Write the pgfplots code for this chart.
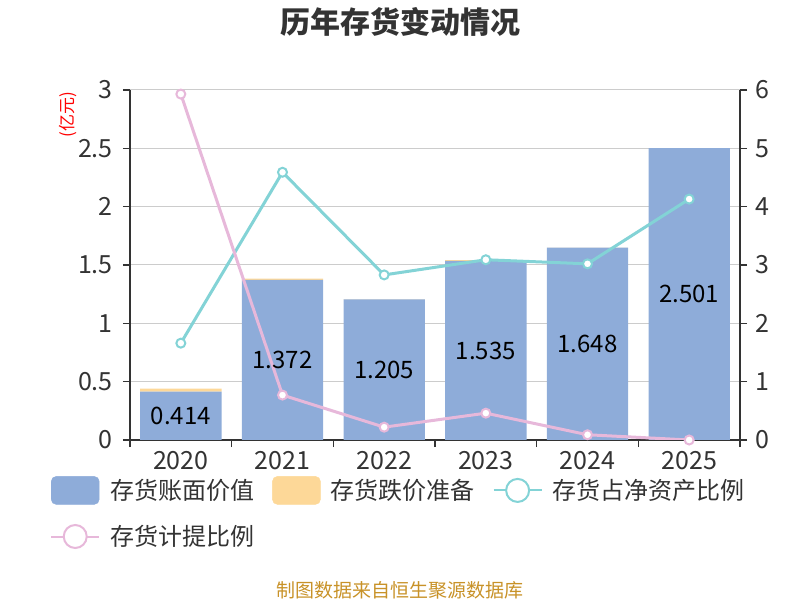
\documentclass[border=0pt]{standalone}
\usepackage{fontspec}
\setmainfont{Noto Sans CJK SC}
\usepackage{pgfplots}
\pgfplotsset{compat=1.18}
\definecolor{barblue}{RGB}{142,172,217}
\definecolor{barorange}{RGB}{253,216,152}
\definecolor{lteal}{RGB}{131,211,214}
\definecolor{lpink}{RGB}{231,184,218}
\definecolor{axgray}{RGB}{51,51,51}
\definecolor{gridgray}{RGB}{204,204,204}
\definecolor{foot}{RGB}{200,146,40}
\newcommand{\fs}[1]{\fontsize{#1bp}{#1bp}\selectfont}
\pgfplotsset{common/.style={
  at={(180.8333bp,160bp)}, anchor=origin, scale only axis, width=610bp, height=350bp,
  xmin=-0.5, xmax=5.5,
  /pgf/number format/assume math mode=true}}
\begin{document}
\begin{tikzpicture}
\path[use as bounding box] (0bp,0bp) rectangle (800bp,600bp);
\node[font=\fs{30}\bfseries, text=axgray] at (400bp,578bp) {历年存货变动情况};
\node[font=\fs{17}, text=red, rotate=90] at (68bp,485bp) {(亿元)};
\node[font=\fs{19}, text=foot] at (400bp,10bp) {制图数据来自恒生聚源数据库};
% bars
\begin{axis}[common, ymin=0, ymax=3,
  ybar stacked, bar width=0.8,
  axis x line*=bottom, axis y line*=left,
  axis line style={axgray, line width=1.5bp},
  xtick={-0.5,0.5,...,5.5}, xticklabels={},
  extra x ticks={0,1,2,3,4,5},
  extra x tick labels={2020,2021,2022,2023,2024,2025},
  extra x tick style={major tick length=0pt, grid=none},
  ytick={0,0.5,1,1.5,2,2.5,3},
  yticklabels={0,0.5,1,1.5,2,2.5,3},
  tick align=outside, major tick length=7bp,
  tick style={axgray, line width=1.5bp},
  ymajorgrids, grid style={gridgray, line width=1bp},
  tick label style={font=\fs{25}, text=axgray},
  xticklabel style={inner sep=0pt, yshift=-11bp},
  yticklabel style={inner sep=0pt, xshift=-10bp},
]
\addplot[fill=barblue, draw=none] coordinates {(0,0.414) (1,1.372) (2,1.205) (3,1.535) (4,1.648) (5,2.501)};
\addplot[fill=barorange, draw=none] coordinates {(0,0.026) (1,0.011) (2,0.003) (3,0.007) (4,0.0015) (5,0)};
\end{axis}
% lines
\begin{axis}[common, ymin=0, ymax=6,
  axis x line=none, axis y line*=right,
  axis line style={axgray, line width=1.5bp},
  ytick={0,1,2,3,4,5,6},
  tick align=outside, major tick length=7bp,
  tick style={axgray, line width=1.5bp},
  tick label style={font=\fs{25}, text=axgray},
  yticklabel style={inner sep=0pt, xshift=8bp},
  legend style={at={(-0.1311,-0.1029)}, anchor=north west, draw=none, fill=none,
    inner sep=0pt, font=\fs{24}, text=axgray, legend columns=3,
    nodes={inner xsep=0pt, inner ysep=2bp},
    row sep=19bp,
    /tikz/every odd column/.append style={column sep=10bp},
    /tikz/every even column/.append style={column sep=18bp}},
  legend cell align=left,
]
\addlegendimage{legend image code/.code={\fill[barblue, rounded corners=5bp] (0bp,-14bp) rectangle (48bp,14bp);}}
\addlegendentry{存货账面价值}
\addlegendimage{legend image code/.code={\fill[barorange, rounded corners=5bp] (0bp,-14bp) rectangle (48bp,14bp);}}
\addlegendentry{存货跌价准备}
\addplot[lteal, line width=3bp, mark=*, mark size=4.5bp, mark options={fill=white, draw=lteal, line width=2bp},
  legend image code/.code={\draw[lteal, line width=2bp] (0bp,0bp)--(48bp,0bp); \filldraw[fill=white, draw=lteal, line width=2bp] (24bp,0bp) circle (11.5bp);}]
  coordinates {(0,1.66) (1,4.59) (2,2.83) (3,3.09) (4,3.02) (5,4.13)};
\addlegendentry{存货占净资产比例}
\addplot[lpink, line width=3bp, mark=*, mark size=4.5bp, mark options={fill=white, draw=lpink, line width=2bp},
  legend image code/.code={\draw[lpink, line width=2bp] (0bp,0bp)--(48bp,0bp); \filldraw[fill=white, draw=lpink, line width=2bp] (24bp,0bp) circle (11.5bp);}]
  coordinates {(0,5.93) (1,0.77) (2,0.22) (3,0.46) (4,0.09) (5,0.0)};
\addlegendentry{存货计提比例}
\end{axis}
% bar labels (centre of each blue bar)
\begin{axis}[common, ymin=0, ymax=3, hide axis, clip=false,
  nodes near coords, point meta=explicit symbolic,
  every node near coord/.append style={anchor=center, font=\fs{24}, text=black, inner sep=0pt},
]
\addplot[draw=none, mark=none] coordinates {(0,0.207)[0.414] (1,0.686)[1.372] (2,0.6025)[1.205] (3,0.7675)[1.535] (4,0.824)[1.648] (5,1.2505)[2.501]};
\end{axis}
\end{tikzpicture}
\end{document}
